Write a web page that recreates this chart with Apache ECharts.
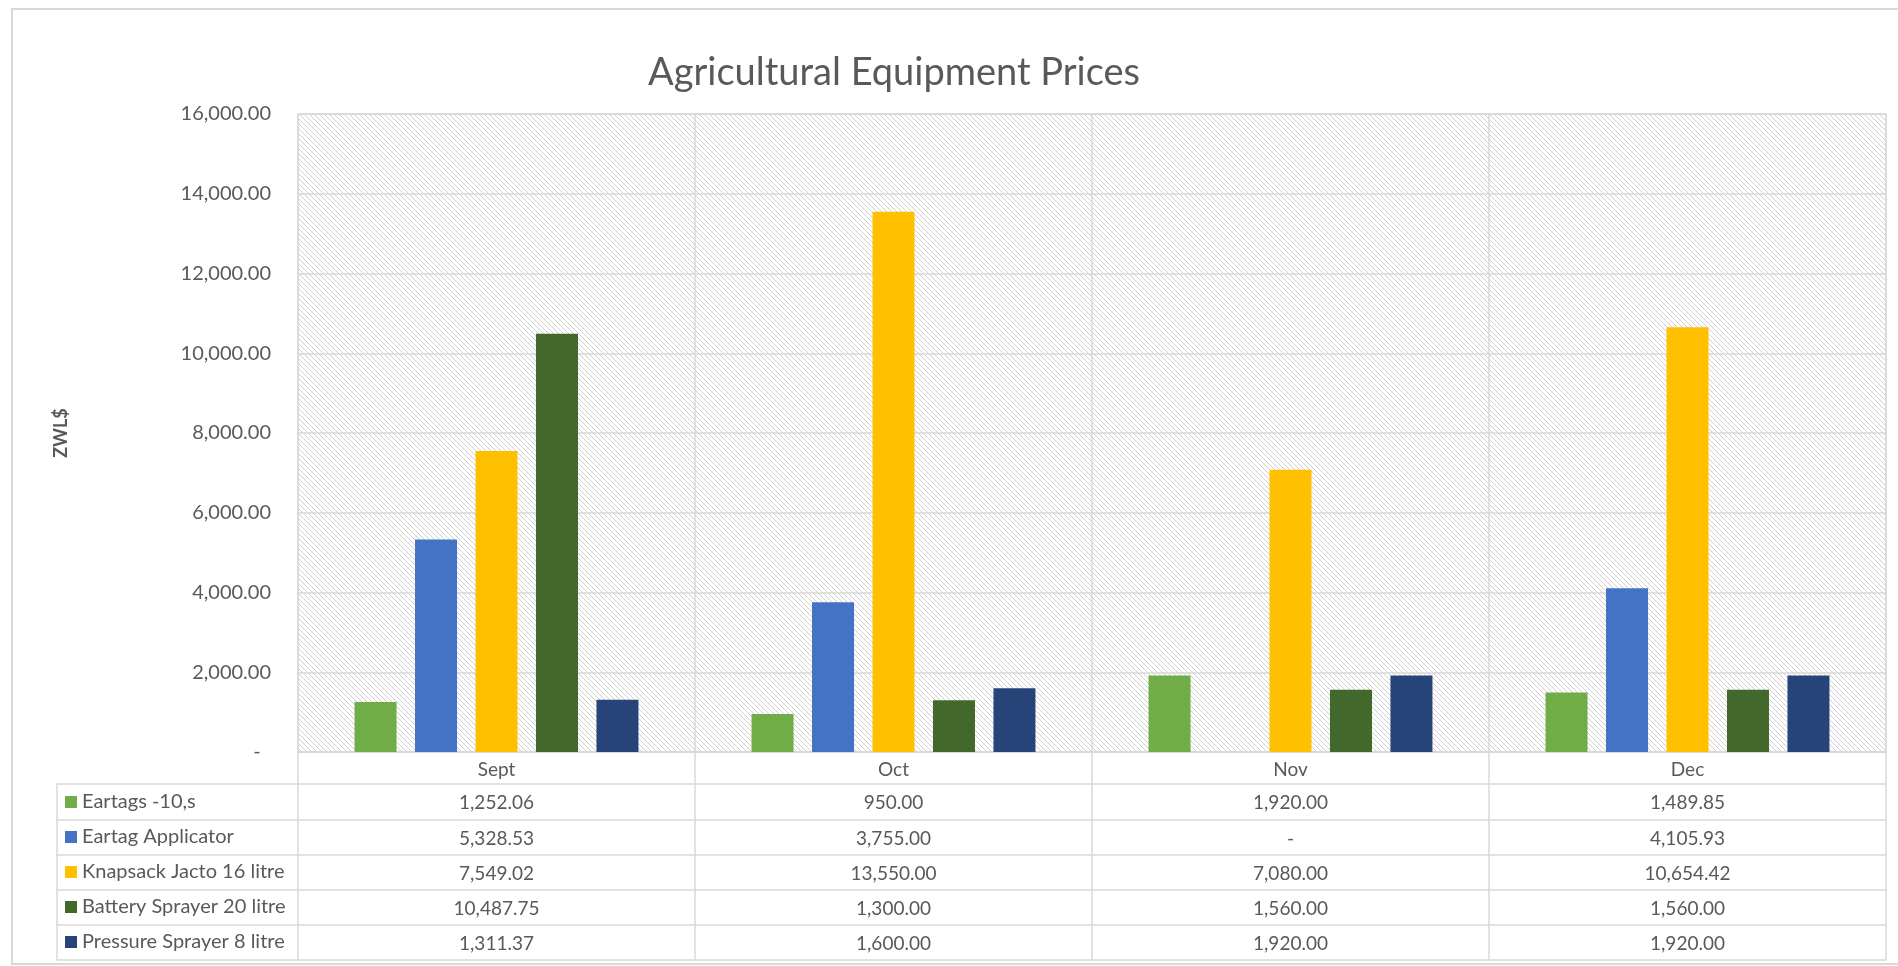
<!DOCTYPE html>
<html>
<head>
<meta charset="utf-8">
<title>Agricultural Equipment Prices</title>
<script src="https://cdn.jsdelivr.net/npm/echarts@6/dist/echarts.min.js"></script>
<style>
html, body { margin: 0; padding: 0; background: #fff; }
#chart { width: 1898px; height: 966px; }
</style>
</head>
<body>
<div id="chart"></div>
<script>
// data
var months = ['Sept', 'Oct', 'Nov', 'Dec'];
var eartags = [1252.06, 950.00, 1920.00, 1489.85];
var applicator = [5328.53, 3755.00, 0, 4105.93];
var knapsack = [7549.02, 13550.00, 7080.00, 10654.42];
var battery = [10487.75, 1300.00, 1560.00, 1560.00];
var pressure = [1311.37, 1600.00, 1920.00, 1920.00];
var seriesNames = ['Eartags -10,s', 'Eartag Applicator', 'Knapsack Jacto 16 litre', 'Battery Sprayer 20 litre', 'Pressure Sprayer 8 litre'];
var seriesColors = ['#70ad47', '#4472c4', '#ffc000', '#43682b', '#264478'];
var allValues = [eartags, applicator, knapsack, battery, pressure];

var chart = echarts.init(document.getElementById('chart'));

var gray = '#d9d9d9';
var textGray = '#595959';
var font = 'Lato';

// hatched plot background
var tile = document.createElement('canvas');
tile.width = 5;
tile.height = 5;
var tctx = tile.getContext('2d');
tctx.fillStyle = '#ffffff';
tctx.fillRect(0, 0, 5, 5);
tctx.fillStyle = '#cfcfcf';
for (var i = 0; i < 5; i++) {
    tctx.fillRect(i, i, 1, 1);
}

function fmt(v) {
    if (v === 0) return '-';
    return v.toLocaleString('en-US', { minimumFractionDigits: 2, maximumFractionDigits: 2 });
}

// table row lines, offset below the plot bottom
var rowOffsets = [32, 68, 103, 138, 173];
var lastLine = 208;

var xAxes = [{
    type: 'category',
    gridIndex: 0,
    data: months,
    axisLine: { onZero: false, lineStyle: { color: gray, width: 1.5 } },
    axisTick: { show: true, length: 32, interval: 0, lineStyle: { color: gray, width: 1.5 } },
    axisLabel: { interval: 0, margin: 8, fontSize: 19, color: textGray, fontFamily: font },
    splitLine: { show: true, interval: 0, lineStyle: { color: gray, width: 1.5 } }
}];

allValues.forEach(function (vals, k) {
    xAxes.push({
        type: 'category',
        gridIndex: 0,
        position: 'bottom',
        offset: rowOffsets[k],
        data: vals.map(fmt),
        axisLine: { onZero: false, lineStyle: { color: gray, width: 1.5 } },
        axisTick: { show: true, length: (k < 4 ? rowOffsets[k + 1] : lastLine) - rowOffsets[k], interval: 0, lineStyle: { color: gray, width: 1.5 } },
        axisLabel: { interval: 0, margin: 9, fontSize: 19, color: textGray, fontFamily: font },
        splitLine: { show: false }
    });
});

xAxes.push({
    type: 'category',
    gridIndex: 0,
    position: 'bottom',
    offset: lastLine,
    data: months,
    axisLine: { onZero: false, lineStyle: { color: gray, width: 1.5 } },
    axisTick: { show: false },
    axisLabel: { show: false },
    splitLine: { show: false }
});

// legend column of the table
rowOffsets.concat([lastLine]).forEach(function (off, k) {
    xAxes.push({
        type: 'category',
        gridIndex: 1,
        position: 'bottom',
        offset: off,
        data: [''],
        axisLine: { onZero: false, lineStyle: { color: gray, width: 1.5 } },
        axisTick: { show: k < 5, length: (k < 4 ? rowOffsets[k + 1] : lastLine) - off, interval: 0, lineStyle: { color: gray, width: 1.5 } },
        axisLabel: { show: false },
        splitLine: { show: false }
    });
});

option = {
    backgroundColor: '#ffffff',
    animation: false,
    title: {
        text: 'Agricultural Equipment Prices',
        left: 643,
        top: 49,
        textStyle: { fontSize: 38, fontWeight: 'normal', color: textGray, fontFamily: font }
    },
    legend: {
        orient: 'vertical',
        left: 60,
        top: 787,
        icon: 'rect',
        itemWidth: 12,
        itemHeight: 12,
        itemGap: 15,
        selectedMode: false,
        data: seriesNames,
        textStyle: { fontSize: 20, lineHeight: 20, color: textGray, fontFamily: font }
    },
    grid: [
        {
            left: 298, top: 114, width: 1588, height: 638,
            show: true,
            borderColor: gray,
            borderWidth: 1.5,
            backgroundColor: { image: tile, repeat: 'repeat' }
        },
        { left: 57, top: 114, width: 241, height: 638, show: false }
    ],
    xAxis: xAxes,
    yAxis: [
        {
            type: 'value',
            gridIndex: 0,
            min: 0,
            max: 16000,
            interval: 2000,
            name: 'ZWL$',
            nameLocation: 'middle',
            nameGap: 228,
            nameRotate: 90,
            nameTextStyle: { fontSize: 18, fontWeight: 'bold', color: textGray, fontFamily: font },
            axisLine: { show: false },
            axisTick: { show: false },
            axisLabel: {
                margin: 27,
                fontSize: 20,
                color: textGray,
                fontFamily: font,
                formatter: function (v) { return v === 0 ? '-  ' : fmt(v); }
            },
            splitLine: { lineStyle: { color: gray, width: 1.5 } }
        },
        { type: 'value', gridIndex: 1, min: 0, max: 1, show: false }
    ],
    series: allValues.map(function (vals, k) {
        return {
            name: seriesNames[k],
            type: 'bar',
            xAxisIndex: 0,
            yAxisIndex: 0,
            data: vals,
            barWidth: 42,
            barGap: '44%',
            itemStyle: { color: seriesColors[k] }
        };
    }),
    graphic: [{
        type: 'rect',
        shape: { x: 12, y: 9, width: 1900, height: 955 },
        style: { fill: null, stroke: gray, lineWidth: 2 },
        silent: true
    }]
};

chart.setOption(option);
</script>
</body>
</html>
